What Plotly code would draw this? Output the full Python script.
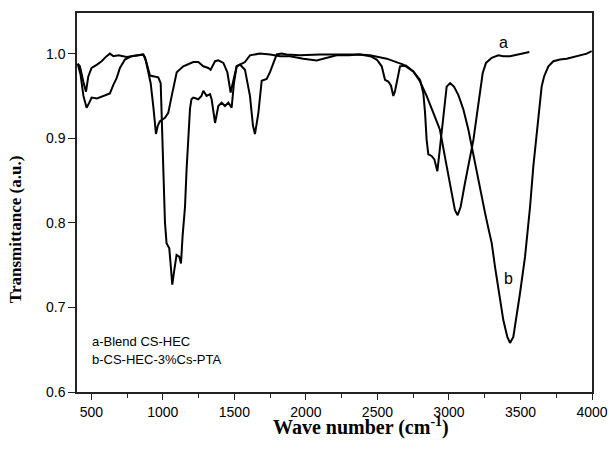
import plotly.graph_objects as go

# Curve a: Blend CS-HEC
wn_a = [405, 420, 444, 463, 479, 502, 540, 572, 607, 630, 654, 690, 747, 782, 840, 864,
        882, 898, 915, 935, 952, 965, 980, 1015, 1038, 1062, 1080, 1097, 1143, 1213, 1248,
        1283, 1318, 1334, 1365, 1388, 1423, 1451, 1474, 1493, 1516, 1539, 1574, 1609, 1679,
        1750, 1820, 1889, 1982, 2075, 2157, 2215, 2300, 2373, 2448, 2565, 2681, 2751, 2798,
        2844, 2891, 2937, 2984, 3019, 3042, 3061, 3082, 3112, 3147, 3171, 3194, 3217, 3236,
        3259, 3299, 3345, 3380, 3427, 3474, 3520, 3562]
tr_a = [0.988, 0.985, 0.967, 0.955, 0.973, 0.983, 0.987, 0.991, 0.997, 1.000, 0.997, 0.998,
        0.996, 0.997, 0.998, 0.999, 0.991, 0.979, 0.965, 0.935, 0.905, 0.915, 0.920, 0.924,
        0.930, 0.950, 0.966, 0.978, 0.985, 0.990, 0.990, 0.985, 0.983, 0.981, 0.991, 0.992,
        0.989, 0.978, 0.954, 0.970, 0.985, 0.987, 0.990, 0.998, 1.000, 0.999, 0.997, 0.997,
        0.994, 0.992, 0.995, 0.998, 0.998, 0.999, 0.998, 0.994, 0.987, 0.979, 0.967, 0.950,
        0.930, 0.910, 0.867, 0.835, 0.815, 0.809, 0.819, 0.847, 0.879, 0.898, 0.926, 0.953,
        0.977, 0.989, 0.995, 0.998, 0.997, 0.997, 0.999, 1.001, 1.002]

# Curve b: CS-HEC-3%Cs-PTA
wn_b = [405, 425, 445, 467, 486, 502, 540, 584, 630, 654, 677, 700, 735, 782, 840, 860, 875,
        898, 910, 940, 968, 985, 995, 1003, 1015, 1026, 1045, 1054, 1066, 1080, 1096, 1115,
        1127, 1138, 1155, 1166, 1178, 1190, 1200, 1213, 1248, 1270, 1283, 1306, 1330, 1341,
        1365, 1388, 1411, 1435, 1458, 1481, 1497, 1516, 1539, 1574, 1609, 1630, 1644, 1668,
        1691, 1726, 1749, 1772, 1796, 1830, 1866, 1958, 2100, 2250, 2378, 2450, 2495, 2530,
        2553, 2576, 2595, 2611, 2622, 2634, 2658, 2700, 2751, 2798, 2821, 2833, 2844, 2856,
        2879, 2898, 2919, 2933, 2949, 2966, 2984, 3008, 3035, 3066, 3101, 3136, 3159, 3189,
        3217, 3252, 3275, 3299, 3322, 3345, 3380, 3408, 3427, 3450, 3474, 3497, 3532, 3567,
        3590, 3613, 3637, 3648, 3665, 3695, 3730, 3776, 3823, 3870, 3916, 3963, 3998]
tr_b = [0.988, 0.975, 0.950, 0.936, 0.942, 0.948, 0.947, 0.950, 0.953, 0.963, 0.971, 0.983,
        0.993, 0.997, 0.998, 0.999, 0.996, 0.980, 0.974, 0.973, 0.972, 0.965, 0.910, 0.851,
        0.800, 0.776, 0.770, 0.752, 0.727, 0.744, 0.762, 0.760, 0.752, 0.784, 0.819, 0.863,
        0.894, 0.935, 0.946, 0.948, 0.946, 0.950, 0.956, 0.950, 0.952, 0.946, 0.918, 0.938,
        0.942, 0.938, 0.942, 0.936, 0.965, 0.985, 0.987, 0.981, 0.950, 0.915, 0.905, 0.930,
        0.968, 0.970, 0.978, 0.989, 0.999, 1.000, 0.999, 0.998, 0.999, 0.999, 0.999, 0.997,
        0.993, 0.985, 0.969, 0.967, 0.962, 0.950, 0.955, 0.965, 0.985, 0.986, 0.979, 0.969,
        0.953, 0.930, 0.898, 0.881, 0.879, 0.875, 0.861, 0.882, 0.906, 0.938, 0.961, 0.965,
        0.961, 0.951, 0.934, 0.910, 0.890, 0.867, 0.843, 0.812, 0.794, 0.776, 0.748, 0.721,
        0.685, 0.665, 0.658, 0.665, 0.689, 0.717, 0.760, 0.819, 0.867, 0.906, 0.946, 0.961,
        0.973, 0.985, 0.991, 0.993, 0.994, 0.996, 0.998, 1.000, 1.003]

x_ticks = [500, 1000, 1500, 2000, 2500, 3000, 3500, 4000]
y_ticks = [0.6, 0.7, 0.8, 0.9, 1.0]
legend_lines = ["a-Blend CS-HEC", "b-CS-HEC-3%Cs-PTA"]

fig = go.Figure()
fig.add_trace(go.Scatter(x=wn_a, y=tr_a, mode="lines", line=dict(color="black", width=2),
                         name="a", showlegend=False))
fig.add_trace(go.Scatter(x=wn_b, y=tr_b, mode="lines", line=dict(color="black", width=2),
                         name="b", showlegend=False))

sans = "Liberation Sans, Arial, sans-serif"
serif = "Liberation Serif, Times New Roman, serif"

fig.update_layout(
    width=609, height=471,
    margin=dict(l=77, r=17, t=13, b=79),
    paper_bgcolor="white", plot_bgcolor="white",
    font=dict(family=sans, size=14, color="black"),
    xaxis=dict(range=[400, 4000], tickvals=x_ticks, ticktext=[str(v) for v in x_ticks],
               automargin=False,
               ticks="outside", ticklen=6, tickwidth=1.2, tickcolor="#222",
               showline=True, linecolor="#222", linewidth=1.5, mirror=True,
               showgrid=False, zeroline=False,
               minor=dict(ticks="outside", dtick=250, tick0=250, ticklen=4, tickcolor="#222"),
               tickfont=dict(family=sans, size=14)),
    yaxis=dict(range=[0.6, 1.048], tickvals=y_ticks, ticktext=["0.6", "0.7", "0.8", "0.9", "1.0"],
               automargin=False,
               ticks="outside", ticklen=7, tickwidth=1.2, tickcolor="#222",
               showline=True, linecolor="#222", linewidth=1.5, mirror=True,
               showgrid=False, zeroline=False,
               tickfont=dict(family=sans, size=14)),
)

annotations = [
    dict(x=3378, y=1.013, xref="x", yref="y", text="a", showarrow=False,
         font=dict(family=sans, size=16)),
    dict(x=3415, y=0.734, xref="x", yref="y", text="b", showarrow=False,
         font=dict(family=sans, size=16)),
    dict(x=491, y=0.6595, xref="x", yref="y", text=legend_lines[0], showarrow=False,
         xanchor="left", font=dict(family=sans, size=13)),
    dict(x=491, y=0.638, xref="x", yref="y", text=legend_lines[1], showarrow=False,
         xanchor="left", font=dict(family=sans, size=13)),
    dict(x=2385, y=0, xref="x", yref="paper", yshift=-34, yanchor="middle",
         text="<b>Wave number (cm<sup>-1</sup>)</b>", showarrow=False,
         font=dict(family=serif, size=20)),
    dict(x=0, y=0.427, xref="paper", yref="paper", xshift=-62, xanchor="center",
         yanchor="middle", textangle=-90, text="<b>Transmittance (a.u.)</b>",
         showarrow=False, font=dict(family=serif, size=17)),
]
fig.update_layout(annotations=annotations)

fig.write_html("out.html", config={"displayModeBar": False, "responsive": False})

# remove the browser's default page margin so the figure sits at the window origin
with open("out.html", "r", encoding="utf-8") as f:
    html = f.read()
html = html.replace("<body>", '<body style="margin:0;padding:0;">', 1)
html = html.replace("<head>", "<head><style>html,body{margin:0;padding:0;overflow:hidden;}</style>", 1)
with open("out.html", "w", encoding="utf-8") as f:
    f.write(html)
